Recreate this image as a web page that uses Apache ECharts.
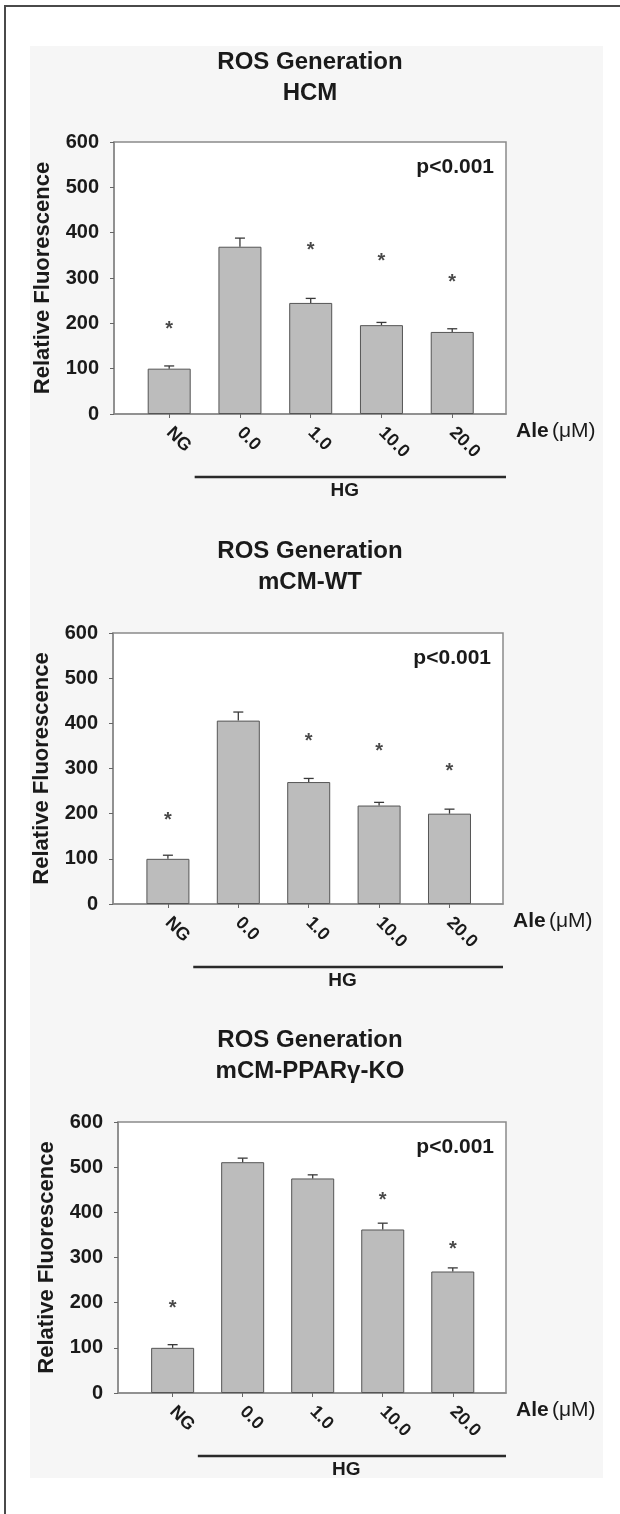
<!DOCTYPE html>
<html>
<head>
<meta charset="utf-8">
<title>ROS Generation</title>
<script src="https://cdn.jsdelivr.net/npm/echarts@6/dist/echarts.min.js"></script>
<style>
    html, body { margin: 0; padding: 0; background: #fff; }
    #wrap { position: relative; width: 620px; height: 1514px; overflow: hidden; }
    /* 바깥 테두리 + 연회색 패널 */
    #frame { position: absolute; left: 4px; top: 5px; width: 700px; height: 1600px;
             border-left: 2px solid #4a4a4a; border-top: 2px solid #4a4a4a; }
    #panel { position: absolute; left: 30px; top: 46px; width: 573px; height: 1432px; background: #f6f6f6; }
    #rosChart { position: absolute; left: 0; top: 0; width: 620px; height: 1514px; }
</style>
</head>
<body>
<div id="wrap">
    <div id="frame"></div>
    <div id="panel"></div>
    <div id="rosChart"></div>
</div>
<script>
// x축 카테고리 (Ale 농도)
var doseList = ['NG', '0.0', '1.0', '10.0', '20.0'];
var yTickList = [0, 100, 200, 300, 400, 500, 600];
var panelTitles = ['ROS Generation\nHCM', 'ROS Generation\nmCM-WT', 'ROS Generation\nmCM-PPARγ-KO'];

// HCM
var hcmMean = [100, 369, 245, 196, 181];
var hcmErr = [6, 19, 10, 6, 7];
var hcmStar = [198, null, 371, 348, 302];

// mCM-WT
var wtMean = [100, 406, 270, 218, 200];
var wtErr = [8, 19, 8, 7, 10];
var wtStar = [197, null, 371, 349, 304];

// mCM-PPARγ-KO
var koMean = [100, 511, 475, 362, 269];
var koErr = [7, 9, 8, 14, 8];
var koStar = [198, null, null, 438, 329];

var meanList = [hcmMean, wtMean, koMean];
var errList = [hcmErr, wtErr, koErr];
var starList = [hcmStar, wtStar, koStar];

var FONT = 'Liberation Sans, Arial, Helvetica, sans-serif';
var AXIS_COLOR = '#8a8a8a';
var TEXT_COLOR = '#1a1a1a';

// 패널별 위치
var layouts = [
    { left: 114, right: 114, top: 142, height: 272, titleTop: 42 },
    { left: 113, right: 117, top: 633, height: 271, titleTop: 531 },
    { left: 118, right: 114, top: 1122, height: 271, titleTop: 1020 }
];

var rosChart = echarts.init(document.getElementById('rosChart'), null, { renderer: 'canvas' });

var option = {
    animation: false,
    backgroundColor: 'transparent',
    textStyle: { fontFamily: FONT },
    title: [],
    grid: [],
    xAxis: [],
    yAxis: [],
    series: [],
    graphic: []
};

var catIdx = [0, 1, 2, 3, 4];

for (var i = 0; i < 3; i++) {
    var lay = layouts[i];

    option.title.push({
        text: panelTitles[i],
        left: 'center',
        top: lay.titleTop,
        textStyle: { fontFamily: FONT, fontSize: 24, fontWeight: 'bold', color: TEXT_COLOR, lineHeight: 31 }
    });

    option.grid.push({
        left: lay.left,
        right: lay.right,
        top: lay.top,
        height: lay.height,
        show: true,
        backgroundColor: '#fff',
        borderColor: AXIS_COLOR,
        borderWidth: 1.5
    });

    option.xAxis.push({
        type: 'value',
        gridIndex: i,
        min: -0.78,
        max: 4.76,
        splitLine: { show: false },
        axisLine: { show: true, onZero: false, lineStyle: { color: AXIS_COLOR, width: 1.5 } },
        axisTick: { show: true, length: 4, customValues: catIdx, lineStyle: { color: '#666', width: 1 } },
        axisLabel: {
            customValues: catIdx,
            rotate: -45,
            margin: 16,
            color: TEXT_COLOR,
            fontFamily: FONT,
            fontSize: 18,
            fontWeight: 'bold',
            formatter: function (v) { return doseList[Math.round(v)]; }
        },
        name: '{b|Ale} {n|(μM)}',
        nameLocation: 'end',
        nameGap: 10,
        nameTextStyle: {
            verticalAlign: 'middle',
            padding: [34, 0, 0, 0],
            rich: {
                b: { fontWeight: 'bold', fontSize: 21, fontFamily: FONT, color: TEXT_COLOR },
                n: { fontWeight: 'normal', fontSize: 21, fontFamily: FONT, color: TEXT_COLOR }
            }
        }
    });

    option.yAxis.push({
        type: 'value',
        gridIndex: i,
        min: 0,
        max: 600,
        interval: 100,
        splitLine: { show: false },
        axisLine: { show: true, onZero: false, lineStyle: { color: AXIS_COLOR, width: 1.5 } },
        axisTick: { show: true, length: 4, lineStyle: { color: '#666' } },
        axisLabel: {
            margin: 15,
            color: TEXT_COLOR,
            fontFamily: FONT,
            fontSize: 20,
            fontWeight: 'bold',
            formatter: function (v) { return yTickList.indexOf(v) >= 0 ? String(v) : ''; }
        },
        name: 'Relative Fluorescence',
        nameLocation: 'middle',
        nameGap: 60,
        nameTextStyle: { color: TEXT_COLOR, fontFamily: FONT, fontSize: 22, fontWeight: 'bold' }
    });

    var mean = meanList[i];
    var err = errList[i];
    var star = starList[i];

    var barData = [];
    var errData = [];
    var starData = [];
    for (var k = 0; k < mean.length; k++) {
        barData.push([k, mean[k]]);
        errData.push([k, mean[k], mean[k] + err[k]]);
        if (star[k] !== null) starData.push([k, star[k]]);
    }

    option.series.push({
        type: 'bar',
        xAxisIndex: i,
        yAxisIndex: i,
        barWidth: 43,
        data: barData,
        itemStyle: { color: '#bcbcbc', borderColor: '#555', borderWidth: 1 }
    });

    // 에러바 (위쪽만)
    option.series.push({
        type: 'custom',
        xAxisIndex: i,
        yAxisIndex: i,
        data: errData,
        z: 3,
        renderItem: function (params, api) {
            var base = api.coord([api.value(0), api.value(1)]);
            var top = api.coord([api.value(0), api.value(2)]);
            var style = { stroke: '#3a3a3a', lineWidth: 1.3 };
            return {
                type: 'group',
                children: [
                    { type: 'line', shape: { x1: base[0], y1: base[1], x2: top[0], y2: top[1] }, style: style },
                    { type: 'line', shape: { x1: top[0] - 5, y1: top[1], x2: top[0] + 5, y2: top[1] }, style: style }
                ]
            };
        }
    });

    // 유의성 별표
    option.series.push({
        type: 'scatter',
        xAxisIndex: i,
        yAxisIndex: i,
        data: starData,
        symbolSize: 1,
        itemStyle: { color: 'rgba(0,0,0,0)' },
        label: {
            show: true,
            position: 'inside',
            offset: [0, 5],
            formatter: '*',
            color: TEXT_COLOR,
            fontFamily: FONT,
            fontSize: 20,
            fontWeight: 'bold'
        }
    });

    option.graphic.push({
        type: 'text',
        right: lay.right + 12,
        top: lay.top + 15,
        style: { text: 'p<0.001', fontFamily: FONT, fontSize: 21, fontWeight: 'bold', fill: TEXT_COLOR }
    });
}

rosChart.setOption(option);

// HG 밑줄 + 글자 (축 좌표로 위치 계산)
var extra = [];
for (var j = 0; j < 3; j++) {
    var x0 = rosChart.convertToPixel({ xAxisIndex: j }, 0.36);
    var x1 = rosChart.convertToPixel({ xAxisIndex: j }, 4.76);
    var xm = rosChart.convertToPixel({ xAxisIndex: j }, 2.48);
    var y0 = rosChart.convertToPixel({ yAxisIndex: j }, 0);
    extra.push({
        type: 'line',
        shape: { x1: x0, y1: y0 + 63, x2: x1, y2: y0 + 63 },
        style: { stroke: '#2a2a2a', lineWidth: 2.5 }
    });
    extra.push({
        type: 'text',
        x: xm,
        y: y0 + 77,
        style: { text: 'HG', fontFamily: FONT, fontSize: 19, fontWeight: 'bold', fill: TEXT_COLOR, align: 'center', verticalAlign: 'middle' }
    });
}
rosChart.setOption({ graphic: option.graphic.concat(extra) });
</script>
</body>
</html>
